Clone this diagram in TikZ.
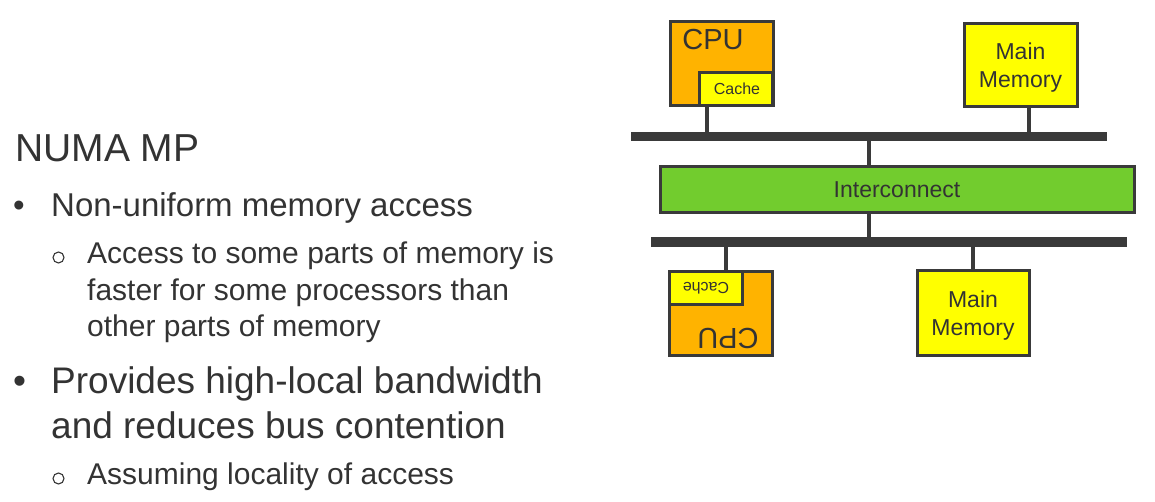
\documentclass[tikz,border=0pt]{standalone}
\usepackage{fontspec}
\setmainfont{Liberation Sans}
\definecolor{ink}{HTML}{333333}
\definecolor{edge}{HTML}{3A3A3A}
\definecolor{cpuorange}{HTML}{FFB300}
\definecolor{memyellow}{HTML}{FFFF00}
\definecolor{netgreen}{HTML}{72CC2E}
\newcommand\setfs[1]{\fontsize{#1}{#1}\selectfont}
\newcommand\setfsl[2]{\fontsize{#1}{#2}\selectfont}
\begin{document}
\begin{tikzpicture}[x=1pt,y=-1pt,
  box/.style={draw=edge, line width=3pt, inner sep=0pt, text=ink},
  cpubox/.style={box, fill=cpuorange},
  membox/.style={box, fill=memyellow},
  memtext/.style={inner sep=0pt, text=ink, align=center, font=\setfsl{23}{28}},
  cachebox/.style={box, fill=memyellow},
  netbox/.style={box, fill=netgreen, font=\setfs{23}},
  bus/.style={fill=edge, inner sep=0pt},
  conn/.style={draw=edge, line width=4pt},
  txt/.style={anchor=base west, inner sep=0pt, text=ink},
  ring/.style={circle, draw=ink, line width=1.1pt, inner sep=0pt, minimum size=11pt},
  lbl/.style={inner sep=0pt, text=ink}]
\useasboundingbox (0,0) rectangle (1155,502);

% ---- left text ----
\node[txt, font=\setfs{39}] (title) at (15,162) {NUMA MP};
\node[txt, font=\setfs{33}] (b1) at (13,217) {•};
\node[txt, font=\setfs{33}] (t1) at (51,217) {Non-uniform memory access};
\node[ring] (s1) at (58.5,257.5) {};
\node[txt, font=\setfs{30}] (t2a) at (87,264) {Access to some parts of memory is};
\node[txt, font=\setfs{30}] (t2b) at (87,300) {faster for some processors than};
\node[txt, font=\setfs{30}] (t2c) at (87,336) {other parts of memory};
\node[txt, font=\setfs{37}] (b2) at (13,393) {•};
\node[txt, font=\setfs{37}] (t3a) at (51,393) {Provides high-local bandwidth};
\node[txt, font=\setfs{37}] (t3b) at (51,438) {and reduces bus contention};
\node[ring] (s2) at (58.5,478.5) {};
\node[txt, font=\setfs{30}] (t4) at (87,484) {Assuming locality of access};

% ---- top node (centres; sizes exclude the 3pt outline) ----
\node[cpubox, minimum width=103pt, minimum height=84pt] (cpu1) at (721.5,63.5) {};
\node[lbl, font=\setfs{29}] (cpu1l) at (713,40) {CPU};
\node[cachebox, minimum width=73pt, minimum height=33pt] (cache1) at (736,89) {};
\node[lbl, font=\setfs{16}] (cache1l) at (737,89) {Cache};
\node[membox, minimum width=113pt, minimum height=83pt] (mem1) at (1020.5,65) {};
\node[memtext] (mem1l) at (1020.5,68) {Main\\Memory};
\node[bus, minimum width=476pt, minimum height=9pt] (bus1) at (869,136.5) {};

% ---- interconnect ----
\node[netbox, minimum width=474pt, minimum height=46pt] (net) at (897,189.5) {Interconnect};

% ---- bottom node ----
\node[bus, minimum width=476pt, minimum height=10pt] (bus2) at (889,242) {};
\node[cpubox, minimum width=103pt, minimum height=84pt] (cpu2) at (720.5,313.5) {};
\node[lbl, font=\setfs{29}, rotate=180] (cpu2l) at (728,338) {CPU};
\node[cachebox, minimum width=73pt, minimum height=33pt] (cache2) at (705.5,288) {};
\node[lbl, font=\setfs{16}, rotate=180] (cache2l) at (706,288) {Cache};
\node[membox, minimum width=112pt, minimum height=85pt] (mem2) at (973,313) {};
\node[memtext] (mem2l) at (973,316) {Main\\Memory};

% ---- connectors ----
\coordinate (x1) at (707,0);
\coordinate (x2) at (1029,0);
\coordinate (x3) at (869,0);
\coordinate (x4) at (726,0);
\coordinate (x5) at (973,0);
\draw[conn] (cache1.south -| x1) -- (bus1.north -| x1);
\draw[conn] (mem1.south -| x2) -- (bus1.north -| x2);
\draw[conn] (bus1.south -| x3) -- (net.north -| x3);
\draw[conn] (net.south -| x3) -- (bus2.north -| x3);
\draw[conn] (bus2.south -| x4) -- (cpu2.north -| x4);
\draw[conn] (bus2.south -| x5) -- (mem2.north -| x5);
\end{tikzpicture}
\end{document}
